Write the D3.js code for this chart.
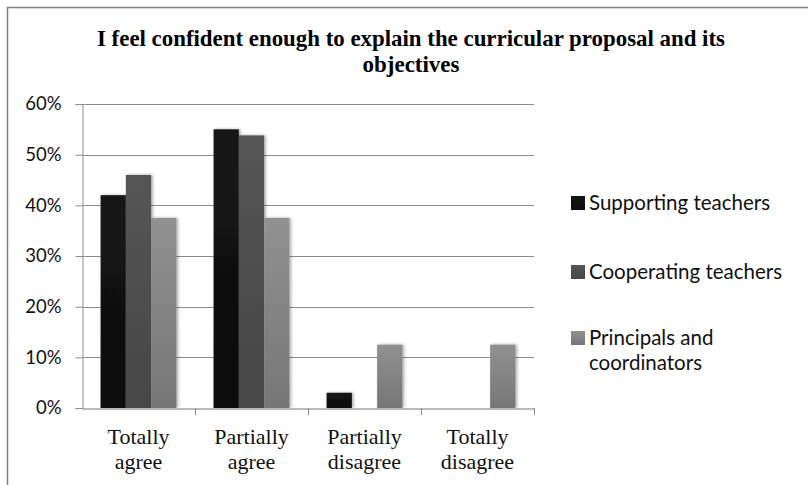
<!DOCTYPE html>
<html><head><meta charset="utf-8">
<script src="https://cdn.jsdelivr.net/npm/d3@7"></script>
<style>html,body{margin:0;padding:0;background:#fff;}svg{display:block;}</style>
</head><body>
<script>
const categories = [["Totally","agree"],["Partially","agree"],["Partially","disagree"],["Totally","disagree"]];
const seriesNames = [["Supporting teachers"],["Cooperating teachers"],["Principals and","coordinators"]];
const supporting = [0.42, 0.55, 0.03, 0];
const cooperating = [0.46, 0.538, 0, 0];
const principals = [0.375, 0.375, 0.125, 0.125];
const yTicks = [0, 0.1, 0.2, 0.3, 0.4, 0.5, 0.6];
const titleLines = ["I feel confident enough to explain the curricular proposal and its","objectives"];

(function(){
const series = [supporting, cooperating, principals];
const W = 808, H = 485;
const svg = d3.select("body").append("svg").attr("width", W).attr("height", H);

const defs = svg.append("defs");
const grads = [["#141414","#0e0e0e"],["#555555","#474747"],["#919191","#767676"]];
grads.forEach((g,i)=>{
  const lg = defs.append("linearGradient").attr("id","g"+i).attr("x1",0).attr("y1",0).attr("x2",0).attr("y2",1);
  lg.append("stop").attr("offset","0%").attr("stop-color",g[0]);
  lg.append("stop").attr("offset","100%").attr("stop-color",g[1]);
});
const flt = defs.append("filter").attr("id","sh").attr("x","-20%").attr("y","-10%").attr("width","140%").attr("height","120%");
flt.append("feDropShadow").attr("dx",1.5).attr("dy",0).attr("stdDeviation",1.5).attr("flood-color","#000").attr("flood-opacity",0.35);

// border
svg.append("path").attr("d","M7.5,485 V7.5 H808").attr("fill","none").attr("stroke","#808080").attr("stroke-width",1.5);

const pl = 82, pr = 534, pt = 104, pb = 408;
const x0 = d3.scaleBand().domain(d3.range(categories.length)).range([pl, pr]).paddingInner(0).paddingOuter(0);
const x1 = d3.scaleBand().domain(d3.range(series.length)).range([0, x0.bandwidth()]).paddingOuter(0.735).paddingInner(0);
const y = d3.scaleLinear().domain([0, 0.6]).range([pb, pt]);

// gridlines
svg.append("g").selectAll("line").data(yTicks.slice(1)).join("line")
  .attr("x1", pl).attr("x2", pr).attr("y1", d=>Math.round(y(d))+0.5).attr("y2", d=>Math.round(y(d))+0.5)
  .attr("stroke","#8c8c8c").attr("stroke-width",1);

// y axis
const yAxis = d3.axisLeft(y).tickValues(yTicks).tickFormat(d3.format(".0%")).tickSize(7).tickPadding(14);
const ya = svg.append("g").attr("transform",`translate(${pl+0.5},0)`).call(yAxis);
ya.select(".domain").attr("stroke","#8c8c8c");
ya.selectAll(".tick line").attr("stroke","#8c8c8c");
ya.selectAll("text").attr("font-family","Lato, 'Open Sans', sans-serif").attr("font-size",18.5).attr("fill","#111");

// bars
const groups = svg.append("g").selectAll("g").data(categories).join("g")
  .attr("transform",(d,i)=>`translate(${x0(i)},0)`);
groups.selectAll("rect").data((d,i)=>series.map((s,j)=>({v:s[i], j}))).join("rect")
  .attr("x", d=>x1(d.j)).attr("width", x1.bandwidth())
  .attr("y", d=>y(d.v)).attr("height", d=>pb - y(d.v))
  .attr("fill", d=>`url(#g${d.j})`).attr("filter","url(#sh)");

// x axis
const xAxis = d3.axisBottom(x0).tickSize(0).tickFormat("");
const xa = svg.append("g").attr("transform",`translate(0,${pb+0.5})`).call(xAxis);
xa.select(".domain").attr("stroke","#a6a6a6").attr("stroke-width",1.5);
xa.selectAll(".tick").remove();
svg.append("g").selectAll("line").data(d3.range(categories.length)).join("line")
  .attr("x1", i=>x0(i)+x0.bandwidth()+0.5).attr("x2", i=>x0(i)+x0.bandwidth()+0.5)
  .attr("y1", pb).attr("y2", pb+7).attr("stroke","#8c8c8c");
const xl = svg.append("g").selectAll("text").data(categories).join("text")
  .attr("x",(d,i)=>x0(i)+x0.bandwidth()/2).attr("y",444)
  .attr("text-anchor","middle").attr("font-family","'Liberation Serif', 'Times New Roman', serif").attr("font-size",22).attr("fill","#111");
xl.selectAll("tspan").data(d=>d).join("tspan")
  .attr("x",function(){return this.parentNode.getAttribute("x");})
  .attr("dy",(d,i)=>i?25:0).text(d=>d);

// title
svg.append("g").selectAll("text").data(titleLines).join("text")
  .attr("x",411).attr("y",(d,i)=>46+i*26).attr("text-anchor","middle")
  .attr("font-family","'Liberation Serif', 'Times New Roman', serif").attr("font-weight","bold").attr("font-size",24).attr("fill","#000")
  .each(function(d,i){ d3.select(this).attr("textLength", i===0 ? 628 : 97).attr("lengthAdjust","spacingAndGlyphs"); })
  .text(d=>d);

// legend
const legY = [203, 272, 338];
const leg = svg.append("g").selectAll("g").data(seriesNames).join("g")
  .attr("transform",(d,i)=>`translate(571,${legY[i]})`);
leg.append("rect").attr("x",0).attr("y",-7).attr("width",14).attr("height",14).attr("fill",(d,i)=>`url(#g${i})`);
const lt = leg.append("text").attr("x",18).attr("y",7)
  .attr("font-family","Lato, 'Open Sans', sans-serif").attr("font-size",20.5).attr("fill","#111");
lt.selectAll("tspan").data(d=>d).join("tspan").attr("x",18).attr("dy",(d,i)=>i?25:0).text(d=>d);
})();
</script>
</body></html>
